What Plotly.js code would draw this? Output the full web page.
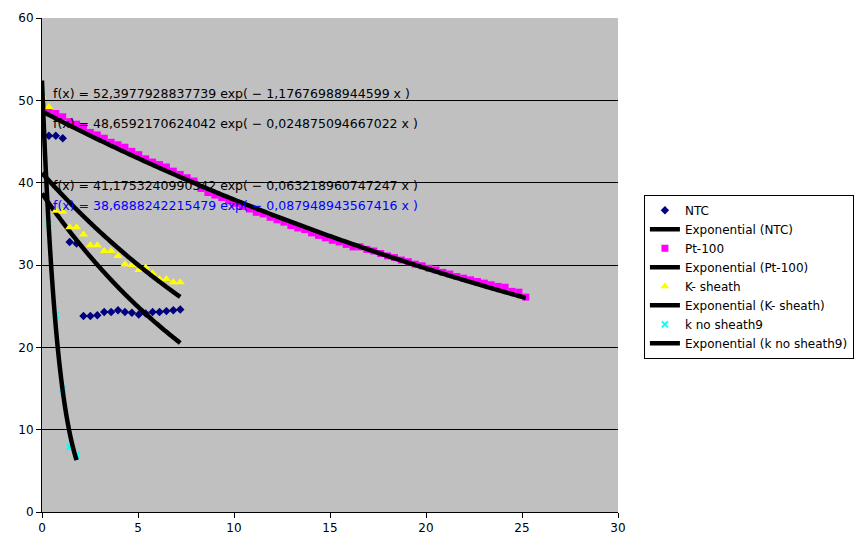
<!DOCTYPE html>
<html>
<head>
<meta charset="utf-8">
<script src="https://cdn.plot.ly/plotly-3.0.1.min.js"></script>
<style>
html,body{margin:0;padding:0;background:#fff;}
#chart{width:867px;height:548px;}
</style>
</head>
<body>
<div id="chart"></div>
<script>
// ---- data ----
const xShort = [0, 0.36, 0.72, 1.08, 1.44, 1.8, 2.16, 2.52, 2.88, 3.24, 3.6, 3.96, 4.32, 4.68, 5.04, 5.4, 5.76, 6.12, 6.48, 6.84, 7.2];
const ntcY = [46.3, 45.7, 45.7, 45.4, 32.8, 32.6, 23.8, 23.8, 23.9, 24.3, 24.3, 24.5, 24.3, 24.2, 24.0, 24.1, 24.3, 24.3, 24.4, 24.5, 24.6];
const kSheathY = [50.5, 49.2, 36.6, 36.5, 34.6, 34.6, 33.7, 32.4, 32.4, 31.7, 31.7, 31.1, 30.1, 30.0, 29.4, 29.7, 29.0, 28.3, 28.3, 27.9, 27.9];
const kNoSheathX = [0, 0.36, 0.72, 1.08, 1.44, 1.8];
const kNoSheathY = [51.0, 35.0, 23.9, 14.9, 7.9, 6.9];
const ptX = [0, 0.36, 0.72, 1.08, 1.44, 1.8, 2.16, 2.52, 2.88, 3.24, 3.6, 3.96, 4.32, 4.68, 5.04, 5.4, 5.76, 6.12, 6.48, 6.84, 7.2, 7.56, 7.92,
  8.28, 8.64, 9.0, 9.36, 9.72, 10.08, 10.44, 10.8, 11.16, 11.52, 11.88, 12.24, 12.6, 12.96, 13.32, 13.68, 14.04, 14.4, 14.76, 15.12, 15.48, 15.84, 16.2,
  16.56, 16.92, 17.28, 17.64, 18.0, 18.36, 18.72, 19.08, 19.44, 19.8, 20.16, 20.52, 20.88, 21.24, 21.6, 21.96, 22.32, 22.68, 23.04, 23.4, 23.76, 24.12, 24.48, 24.84, 25.2];
const ptY = [49.3, 48.7, 48.4, 48.0, 47.4, 47.1, 46.7, 46.1, 45.8, 45.4, 44.9, 44.6, 44.3, 43.8, 43.4, 42.9, 42.5, 42.2, 41.9, 41.4, 41.0, 40.6, 40.2,
  39.3, 38.8, 38.5, 38.2, 37.8, 37.5, 37.1, 36.8, 36.4, 36.2, 35.8, 35.5, 35.2, 34.8, 34.5, 34.3, 33.9, 33.6, 33.3, 33.0, 32.8, 32.5, 32.2,
  32.2, 31.9, 31.7, 31.4, 31.1, 30.9, 30.6, 30.4, 30.1, 29.9, 29.6, 29.4, 29.1, 28.9, 28.6, 28.4, 28.2, 28.0, 27.8, 27.6, 27.4, 27.3, 26.8, 26.7, 26.1];

// exponential fit coefficients shown on the chart: f(x) = a exp(b x)
const seriesNames = ["NTC", "Pt-100", "K- sheath", "k no sheath9"];
const fitA = [38.6888242215479, 48.6592170624042, 41.1753240990342, 52.3977928837739];
const fitB = [-0.087948943567416, -0.024875094667022, -0.063218960747247, -1.17676988944599];
const fitLabels = [
  "f(x) = 38,6888242215479 exp( \u2212 0,087948943567416 x )",
  "f(x) = 48,6592170624042 exp( \u2212 0,024875094667022 x )",
  "f(x) = 41,1753240990342 exp( \u2212 0,063218960747247 x )",
  "f(x) = 52,3977928837739 exp( \u2212 1,17676988944599 x )"
];
const xTicks = [0, 5, 10, 15, 20, 25, 30];
const yTicks = [0, 10, 20, 30, 40, 50, 60];

// ---- styles ----
const markerStyles = [
  {symbol: "diamond", color: "#000080", size: 6.5, lw: 0},
  {symbol: "square", color: "#ff00ff", size: 7, lw: 0},
  {symbol: "triangle-up", color: "#ffff00", size: 8, lw: 0},
  {symbol: "x-thin", color: "#00ffff", size: 6, lw: 2}
];
const labelY = [37.2, 47.2, 39.6, 50.85];
const labelColor = ["#0000ff", "#000000", "#000000", "#000000"];

const dataX = [xShort, ptX, xShort, kNoSheathX];
const dataY = [ntcY, ptY, kSheathY, kNoSheathY];

const traces = [];
for (let s = 0; s < 4; s++) {
  const ms = markerStyles[s];
  traces.push({
    type: "scatter", mode: "markers", name: seriesNames[s],
    x: dataX[s], y: dataY[s],
    marker: {symbol: ms.symbol, color: ms.color, size: ms.size, line: {width: ms.lw, color: ms.color}}
  });
  const xmax = Math.max(...dataX[s]);
  const tx = [], ty = [];
  const n = 120;
  for (let i = 0; i <= n; i++) {
    const xv = xmax * i / n;
    tx.push(xv);
    ty.push(fitA[s] * Math.exp(fitB[s] * xv));
  }
  traces.push({
    type: "scatter", mode: "lines", name: "Exponential (" + seriesNames[s] + ")",
    x: tx, y: ty, line: {color: "#000000", width: 4.5, shape: "spline", smoothing: 0.6}
  });
}

const annotations = [];
for (let s = 0; s < 4; s++) {
  annotations.push({
    x: 0.48, y: labelY[s], xref: "x", yref: "y", text: fitLabels[s],
    showarrow: false, xanchor: "left", yanchor: "middle",
    font: {family: "DejaVu Sans", size: 12.5, color: labelColor[s]}
  });
}

const layout = {
  width: 867, height: 548,
  margin: {l: 42, r: 249, t: 18, b: 36, pad: 0},
  paper_bgcolor: "#ffffff",
  plot_bgcolor: "#c0c0c0",
  font: {family: "DejaVu Sans", size: 12, color: "#000000"},
  showlegend: true,
  xaxis: {
    range: [0, 30], tickvals: xTicks, ticktext: xTicks.map(String),
    showgrid: false, zeroline: false,
    showline: true, linecolor: "#000000", linewidth: 1,
    ticks: "outside", ticklen: 5, tickcolor: "#000000",
    tickfont: {family: "DejaVu Sans", size: 12, color: "#000000"}
  },
  yaxis: {
    range: [0, 60], tickvals: yTicks, ticktext: yTicks.map(String),
    showgrid: true, gridcolor: "#000000", gridwidth: 1, zeroline: false,
    showline: true, linecolor: "#000000", linewidth: 1,
    ticks: "outside", ticklen: 5, tickcolor: "#000000",
    tickfont: {family: "DejaVu Sans", size: 12, color: "#000000"}
  },
  legend: {
    x: 1.045, y: 0.642, xanchor: "left", yanchor: "top",
    bgcolor: "#ffffff", bordercolor: "#000000", borderwidth: 1,
    font: {family: "DejaVu Sans", size: 12, color: "#000000"},
    tracegroupgap: 0
  },
  annotations: annotations
};

Plotly.newPlot("chart", traces, layout, {displayModeBar: false, staticPlot: true});
</script>
</body>
</html>
